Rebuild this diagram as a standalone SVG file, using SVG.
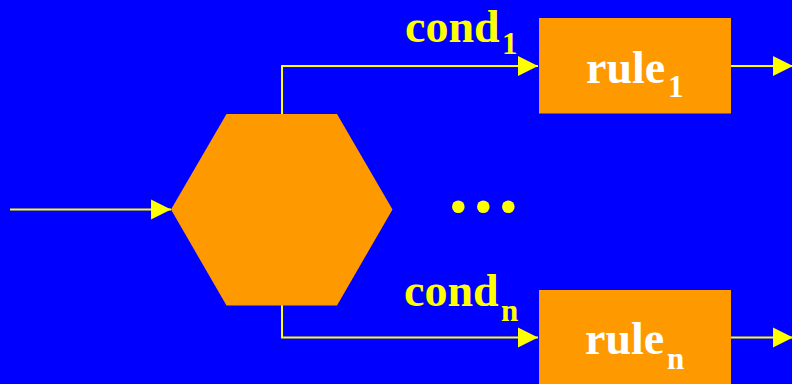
<svg xmlns="http://www.w3.org/2000/svg" width="792" height="384" viewBox="0 0 792 384">
  <style>
    .shape { fill: #FF9900; }
    .wire { fill: none; stroke: #FFFF00; stroke-width: 2; marker-end: url(#head); }
    .cond { font-family: "Liberation Serif", "Times New Roman", serif; font-weight: bold; fill: #FFFF00; }
    .rule { font-family: "Liberation Serif", "Times New Roman", serif; font-weight: bold; fill: #FFFFFF; }
    .big { font-size: 46px; }
    .sub { font-size: 31px; }
    .dot { fill: #FFFF00; }
  </style>
  <defs>
    <marker id="head" markerUnits="userSpaceOnUse" markerWidth="20" markerHeight="20" refX="20" refY="10" orient="auto" overflow="visible">
      <path d="M0,0 L20,10 L0,20 Z" fill="#FFFF00"/>
    </marker>
  </defs>

  <rect x="0" y="0" width="792" height="384" fill="#0000FF"/>

  <!-- connectors -->
  <g id="connectors">
    <path class="wire" d="M10,209.5 H171"/>
    <path class="wire" d="M282,114 V66 H538"/>
    <path class="wire" d="M282,305 V337.5 H538"/>
    <path class="wire" d="M731,66 H793"/>
    <path class="wire" d="M731,337.5 H793"/>
  </g>

  <!-- dispatcher -->
  <g id="dispatch">
    <polygon class="shape" points="171,209.5 226.5,114 337,114 392.5,209.5 337,305.5 226.5,305.5"/>
  </g>

  <!-- first rule and its condition -->
  <g id="cond1">
    <text class="cond"><tspan class="big" x="405" y="41.5">cond</tspan><tspan class="sub" x="502" y="54">1</tspan></text>
  </g>
  <g id="rule1">
    <rect class="shape" x="539" y="18" width="192" height="95.5"/>
    <text class="rule"><tspan class="big" x="586" y="82.5">rule</tspan><tspan class="sub" x="668" y="96.5">1</tspan></text>
  </g>

  <!-- ellipsis between rules -->
  <g id="ellipsis">
    <circle class="dot" cx="458.3" cy="206.7" r="6.3"/>
    <circle class="dot" cx="483.3" cy="206.7" r="6.3"/>
    <circle class="dot" cx="508.3" cy="206.7" r="6.3"/>
  </g>

  <!-- last rule and its condition -->
  <g id="condn">
    <text class="cond"><tspan class="big" x="404" y="306">cond</tspan><tspan class="sub" x="501" y="320.5">n</tspan></text>
  </g>
  <g id="rulen">
    <rect class="shape" x="539" y="290" width="192" height="94"/>
    <text class="rule"><tspan class="big" x="585" y="354">rule</tspan><tspan class="sub" x="667" y="369">n</tspan></text>
  </g>
</svg>
